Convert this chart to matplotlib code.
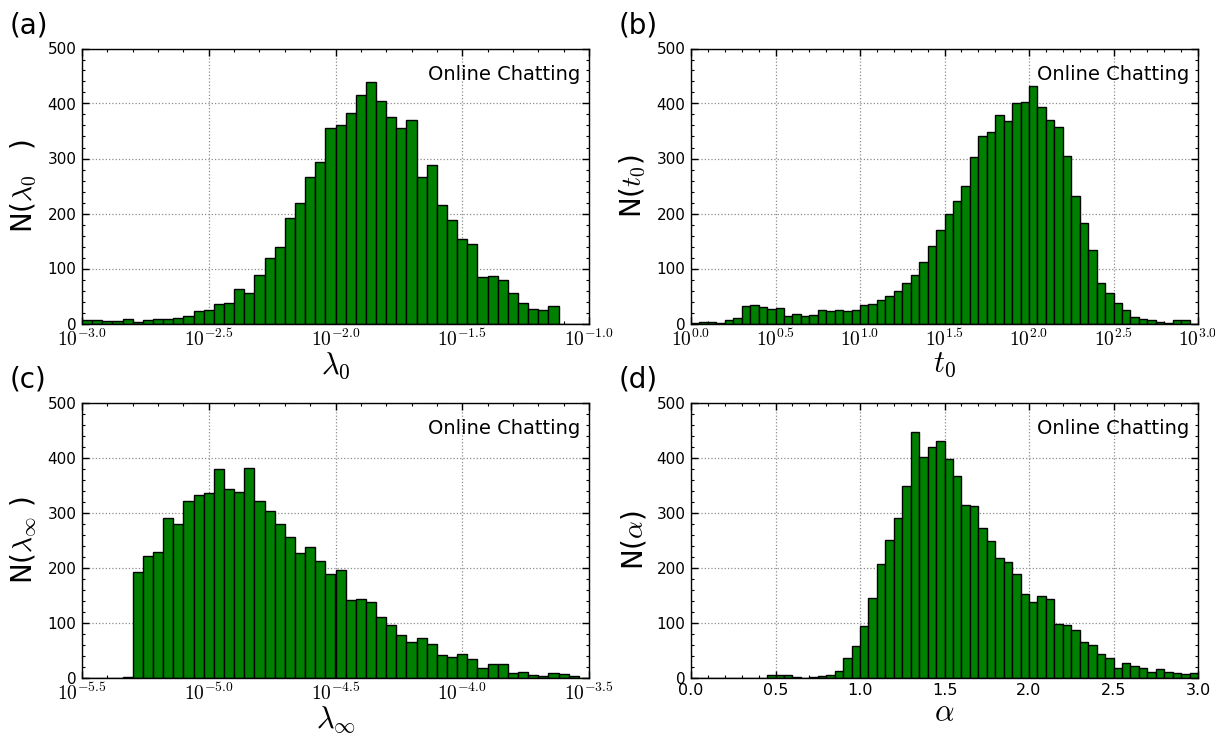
import numpy as np
import matplotlib
matplotlib.use("Agg")
import matplotlib.pyplot as plt
from matplotlib.ticker import MultipleLocator, FuncFormatter

plt.rcParams['mathtext.fontset'] = 'cm'
plt.rcParams['font.family'] = 'DejaVu Sans'

# bin ranges (log10 of value for a-c, linear for d) and counts
a_range = (-3.0, -1.0)
a_counts = [6, 6, 5, 4, 8, 2, 6, 8, 8, 10,
            13, 22, 24, 36, 38, 63, 55, 89, 120, 140,
            192, 220, 266, 293, 356, 360, 382, 415, 439, 405,
            376, 356, 370, 267, 289, 216, 189, 154, 144, 84,
            86, 79, 56, 37, 27, 24, 32, 0, 0, 0]

b_range = (0.0, 3.0)
b_counts = [1, 3, 3, 1, 6, 10, 32, 33, 30, 27,
            28, 14, 17, 14, 15, 25, 23, 25, 22, 25,
            34, 36, 42, 50, 60, 74, 89, 111, 141, 170,
            200, 222, 250, 303, 340, 349, 379, 368, 400, 402,
            431, 393, 370, 358, 305, 232, 182, 134, 74, 56,
            38, 25, 11, 8, 7, 3, 1, 6, 6, 0]

c_range = (-5.5, -3.5)
c_counts = [0, 0, 0, 0, 2, 192, 221, 228, 290, 279,
            321, 332, 336, 379, 343, 338, 382, 321, 304, 279,
            255, 226, 237, 213, 188, 196, 141, 144, 137, 111,
            96, 77, 65, 72, 62, 42, 38, 44, 34, 17,
            25, 25, 8, 10, 5, 4, 9, 7, 3, 0]

d_range = (0.0, 3.0)
d_counts = [0, 0, 0, 0, 0, 0, 0, 0, 0, 5,
            5, 5, 1, 0, 2, 3, 5, 12, 35, 58,
            94, 145, 207, 250, 290, 348, 446, 401, 420, 430,
            397, 367, 314, 313, 272, 248, 218, 210, 188, 152,
            137, 149, 143, 98, 95, 87, 65, 59, 44, 36,
            18, 26, 21, 17, 11, 16, 11, 8, 6, 9]

panel_tags = ['(a)', '(b)', '(c)', '(d)']
xlabels = [r'$\lambda_0$', r'$t_0$', r'$\lambda_\infty$', r'$\alpha$']
ylabels = [r'N($\lambda_0\quad$)', r'N($t_0$)', r'N($\lambda_\infty$ )', r'N($\alpha$)']
log_axis = [True, True, True, False]
note = 'Online Chatting'


def log_fmt(v, pos):
    return r'$10^{%.1f}$' % v


def lin_fmt(v, pos):
    return '%.1f' % v


fig = plt.figure(figsize=(12.15, 7.38), dpi=100)

W, H = 1215.0, 738.0
boxes = [(82, 48.5), (691, 48.5), (82, 402.7), (691, 402.7)]
aw, ah = 507.0, 275.0

data = [(a_range, a_counts), (b_range, b_counts), (c_range, c_counts), (d_range, d_counts)]

for k, ((lo, hi), counts) in enumerate(data):
    x0, y0 = boxes[k]
    ax = fig.add_axes([x0 / W, 1 - (y0 + ah) / H, aw / W, ah / H])
    counts = np.array(counts)
    edges = np.linspace(lo, hi, len(counts) + 1)
    ax.bar(edges[:-1], counts, width=edges[1] - edges[0], align='edge',
           color='#008000', edgecolor='black', linewidth=1.0, zorder=2)
    ax.set_xlim(lo, hi)
    ax.set_ylim(0, 500)
    ax.xaxis.set_major_locator(MultipleLocator(0.5))
    ax.xaxis.set_minor_locator(MultipleLocator(0.1))
    ax.yaxis.set_major_locator(MultipleLocator(100))
    ax.yaxis.set_minor_locator(MultipleLocator(20))
    if log_axis[k]:
        ax.xaxis.set_major_formatter(FuncFormatter(log_fmt))
        ax.tick_params(axis='x', labelsize=14)
    else:
        ax.xaxis.set_major_formatter(FuncFormatter(lin_fmt))
        ax.tick_params(axis='x', labelsize=11.5)
    ax.tick_params(axis='y', labelsize=11)
    ax.tick_params(which='both', direction='in', top=True, right=True, pad=4)
    ax.tick_params(which='major', length=5, width=1)
    ax.tick_params(which='minor', length=2.5, width=0.8)
    ax.grid(True, which='major', linestyle=':', color='0.55', linewidth=0.9, zorder=0)
    ax.set_axisbelow(True)
    for s in ax.spines.values():
        s.set_linewidth(1.0)
    ax.set_xlabel(xlabels[k], fontsize=22, labelpad=0)
    ax.set_ylabel(ylabels[k], fontsize=20, labelpad=6)
    ax.text(0.982, 0.905, note, transform=ax.transAxes, ha='right', va='center',
            fontsize=14)
    fig.text((x0 - 72) / W, 1 - (y0 - 23) / H, panel_tags[k], fontsize=20,
             ha='left', va='center')

plt.savefig("out.png", dpi=100)
